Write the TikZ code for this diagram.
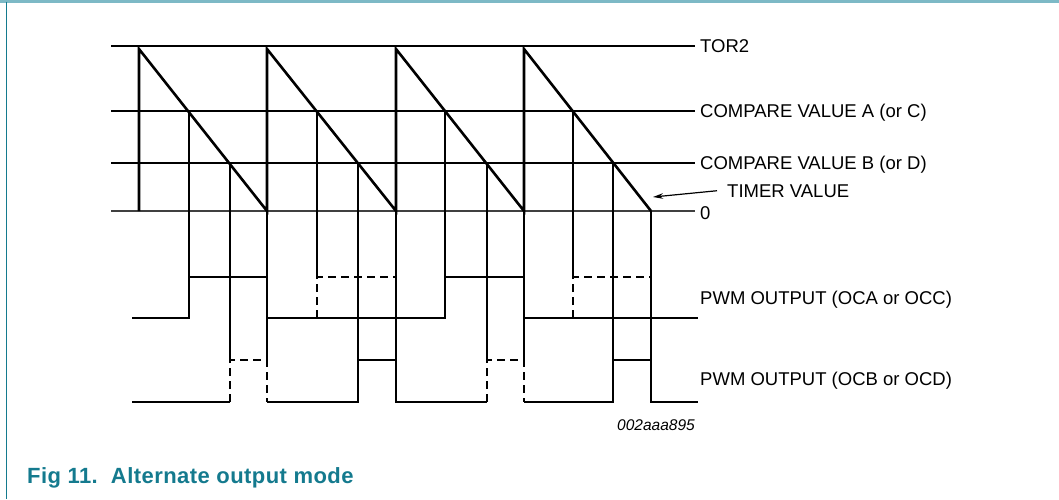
\documentclass[tikz,border=0pt]{standalone}
\usepackage{fontspec}
\setmainfont{Liberation Sans}
\usetikzlibrary{arrows.meta}
\definecolor{figteal}{RGB}{20,122,142}
\definecolor{ruleteal}{RGB}{125,185,198}
\tikzset{
  lbl/.style={anchor=base west,inner sep=0pt,font=\fontsize{18.5}{20}\selectfont},
  wave/.style={line width=2.5pt,line join=miter},
  dwave/.style={wave,dash pattern=on 8pt off 5pt},
  guide/.style={line width=1.2pt},
}
\begin{document}
\begin{tikzpicture}[x=1pt,y=-1pt]
    \useasboundingbox(0,0)rectangle(1059,499);
    \draw[ruleteal,line width=2.5pt](0,1.5)--(1059,1.5);
    \draw[figteal,line width=1.5pt](6.5,1.5)--(6.5,499);
    % levels
    \draw[line width=1.4pt](111,46)--(695,46);
    \draw[line width=2.6pt](111,111)--(695,111);
    \draw[line width=2.6pt](111,163)--(695,163);
    \draw[black!75,line width=1.8pt](111,211)--(695,211);
    % guides
    \draw[guide](189,111)--(189,277)(317,111)--(317,277)(445,111)--(445,277)(573,111)--(573,277);
    \draw[guide](230,163)--(230,360)(358,163)--(358,360)(487,163)--(487,360)(613,163)--(613,360);
    \draw[guide](267,211)--(267,360)(396,211)--(396,360)(524,211)--(524,360)(651,211)--(651,360);
    % timer
    \draw[line width=2.6pt,line join=miter](139,211)--(139,49)--(267,211)--(267,49)--(396,211)--(396,49)--(524,211)--(524,49)--(651,211);
    % outputs
    \draw[wave](132,318)--(189,318)--(189,277)--(267,277)--(267,318)--(445,318)--(445,277)--(524,277)--(524,318)--(698,318);
    \draw[dwave](317,318)--(317,277)--(396,277)--(396,318);
    \draw[dwave](573,318)--(573,277)--(651,277)--(651,318);
    \draw[wave](132,402)--(230,402);
    \draw[wave](267,402)--(358,402)--(358,360)--(396,360)--(396,402)--(487,402);
    \draw[wave](524,402)--(613,402)--(613,360)--(651,360)--(651,402)--(698,402);
    \draw[dwave](230,402)--(230,360)--(267,360)--(267,402);
    \draw[dwave](487,402)--(487,360)--(524,360)--(524,402);
    % labels
    \node[lbl](tor)at(700,52.5){TOR2};
    \node[lbl](cmpa)at(700,117.5){COMPARE VALUE A (or C)};
    \node[lbl](cmpb)at(700,169.5){COMPARE VALUE B (or D)};
    \node[lbl](tmr)at(727,197){TIMER VALUE};
    \node[lbl](zero)at(700,219){0};
    \node[lbl](pwma)at(700,304.5){PWM OUTPUT (OCA or OCC)};
    \node[lbl](pwmb)at(700,385.5){PWM OUTPUT (OCB or OCD)};
    \coordinate(tip)at(653,197);
    \draw[line width=1.2pt,-{Stealth[length=10pt,width=5.5pt]}]([xshift=-10pt]tmr.west)--(tip);
    \node[anchor=base west,inner sep=0pt,font=\fontsize{15.5}{17}\selectfont\itshape](code)at(617,430.7){002aaa895};
    \node[anchor=base west,inner sep=0pt,text=figteal,font=\fontsize{22}{24}\selectfont\bfseries\addfontfeature{LetterSpace=2}](cap)at(27,483){Fig 11.\ \ Alternate output mode};
\end{tikzpicture}
\end{document}
